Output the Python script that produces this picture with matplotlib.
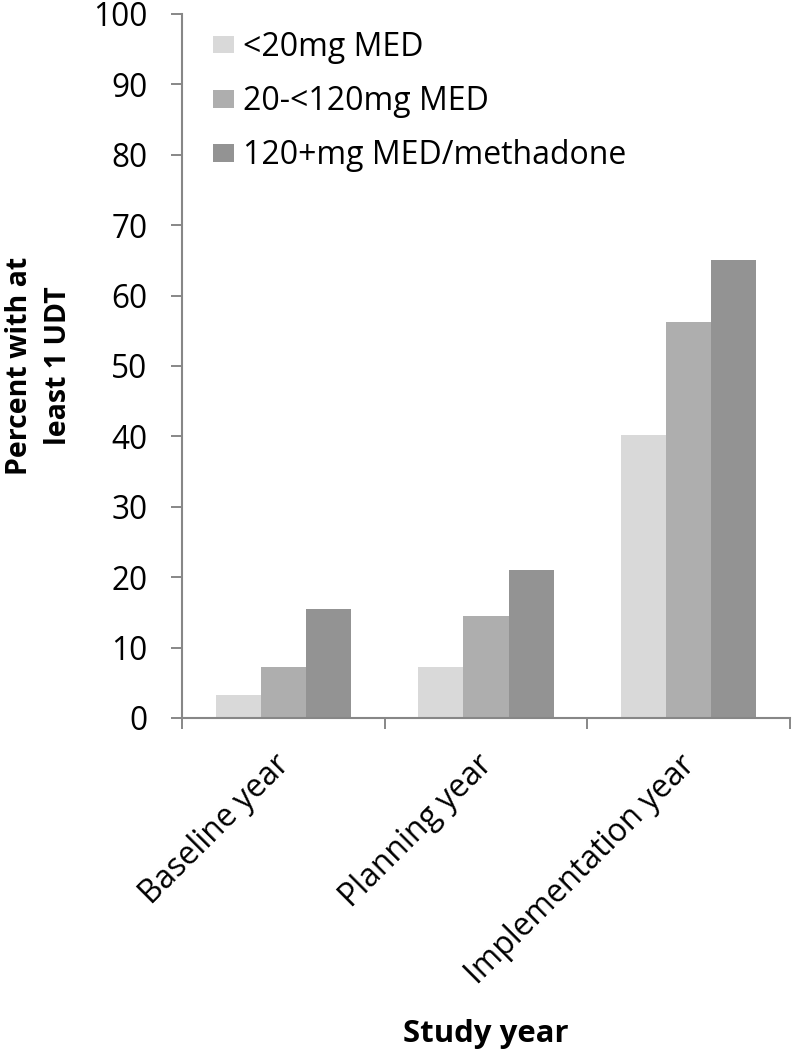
import matplotlib
matplotlib.use("Agg")
import matplotlib.pyplot as plt
import matplotlib.transforms as mtransforms
import numpy as np

categories = ["Baseline year", "Planning year", "Implementation year"]
series_names = ["<20mg MED", "20-<120mg MED", "120+mg MED/methadone"]
low_dose = [3.3, 7.3, 40.2]
mid_dose = [7.2, 14.5, 56.2]
high_dose = [15.5, 21.0, 65.0]
colors = ["#D9D9D9", "#AEAEAE", "#939393"]
yticks = [0, 10, 20, 30, 40, 50, 60, 70, 80, 90, 100]

plt.rcParams['font.family'] = ['Open Sans', 'DejaVu Sans']
AX_COLOR = '#878787'

fig = plt.figure(figsize=(7.93, 10.51), dpi=100)
ax = fig.add_axes([182/793, 1 - 718/1051, (790-182)/793, (718-14)/1051])

x = np.arange(len(categories))
w = 1/4.5
for i, (vals, name) in enumerate(zip([low_dose, mid_dose, high_dose], series_names)):
    ax.bar(x + (i - 1) * w, vals, width=w, color=colors[i], label=name, zorder=2)

ax.set_xlim(-0.5, len(categories) - 0.5)
ax.set_ylim(0, 100)
ax.set_yticks(yticks)
ax.set_yticklabels([str(t) for t in yticks], fontsize=22.7)
ax.set_xticks(x)
ax.set_xticklabels(categories, rotation=45, ha='right', va='top', rotation_mode='anchor', fontsize=22.9)
ax.tick_params(axis='x', which='major', length=0, pad=22)
shift = mtransforms.ScaledTranslation(-10/100, 0, fig.dpi_scale_trans)
for lab in ax.get_xticklabels():
    lab.set_transform(lab.get_transform() + shift)
# category boundary ticks
ax.set_xticks(np.arange(-0.5, len(categories)), minor=True)
ax.tick_params(axis='x', which='minor', length=8, width=1.4, color=AX_COLOR, direction='out')
ax.tick_params(axis='y', length=8, width=1.4, color=AX_COLOR, direction='out', pad=17)

for s in ['top', 'right']:
    ax.spines[s].set_visible(False)
for s in ['left', 'bottom']:
    ax.spines[s].set_color(AX_COLOR)
    ax.spines[s].set_linewidth(1.5)

ax.set_ylabel("Percent with at\nleast 1 UDT", fontsize=20.5, fontweight='bold', linespacing=1.45)
ax.yaxis.label.set_va('center')
ax.yaxis.set_label_coords((39-182)/608, 0.5)
ax.set_xlabel("Study year", fontsize=22.4, fontweight='bold')
ax.xaxis.label.set_va('center')
ax.xaxis.set_label_coords(0.5, (718-1034)/704)

leg = ax.legend(loc='upper left', bbox_to_anchor=((213-182)/608, 1 - (31-14)/704), frameon=False,
                fontsize=23, handlelength=0.65, handleheight=0.47, handletextpad=0.3,
                labelspacing=0.66, borderaxespad=0, borderpad=0)

fig.savefig("out.png", dpi=100)
